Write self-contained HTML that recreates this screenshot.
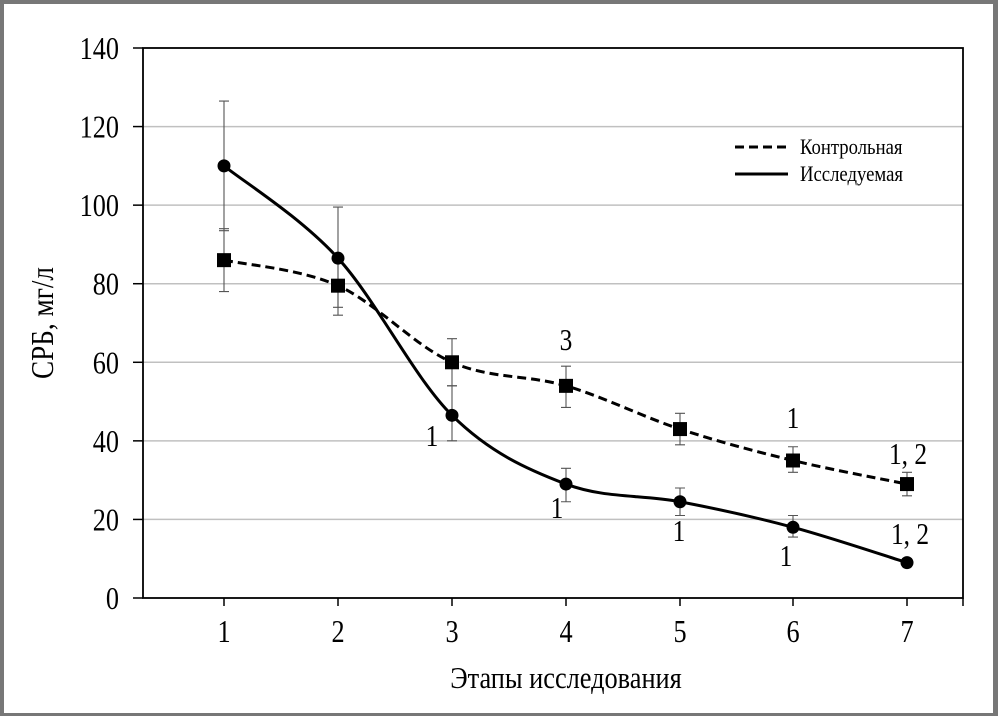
<!DOCTYPE html>
<html><head><meta charset="utf-8"><style>
body{margin:0;background:#fff}
#w{position:relative;width:998px;height:716px;box-sizing:border-box;border:4px solid #777;border-bottom-width:3px;border-right-width:5px;background:#fff}
svg{position:absolute;left:-4px;top:-4px}
text{font-family:"Liberation Serif",serif;fill:#000}
</style></head><body><div id="w">
<svg id="s" width="998" height="716" xmlns="http://www.w3.org/2000/svg"></svg>
</div>
<script>
const s=document.getElementById('s');
const X=[224,338,452,566,680,793,907];
const Y=v=>598-v*550/140;
const T=(x,y,fs,a,str,sx)=>`<g transform="translate(${x} ${y}) scale(${sx||0.82} 1)"><text x="0" y="0" font-size="${fs}" text-anchor="${a}">${str}</text></g>`;
let h='';
for(let v=20;v<=120;v+=20)h+=`<line x1="143" x2="963" y1="${Y(v)}" y2="${Y(v)}" stroke="#c0c0c0" stroke-width="1.5"/>`;
for(let v=0;v<=140;v+=20){h+=`<line x1="133" x2="143" y1="${Y(v)}" y2="${Y(v)}" stroke="#000" stroke-width="1.5"/>`+T(119,Y(v)+11,32,'end',v);}
h+=`<rect x="143" y="48" width="820" height="550" fill="none" stroke="#000" stroke-width="1.8"/>`;
X.forEach((x,i)=>{h+=`<line x1="${x}" x2="${x}" y1="598" y2="606" stroke="#000" stroke-width="1.5"/>`+T(x,642,32,'middle',i+1)});
h+=`<line x1="963" x2="963" y1="598" y2="606" stroke="#000" stroke-width="1.5"/>`;
h+=T(566,688,31,'middle','Этапы исследования',0.85);
h+=`<g transform="translate(53 323) rotate(-90) scale(0.85 1)"><text x="0" y="0" font-size="32" text-anchor="middle">СРБ, мг/л</text></g>`;
const A=[86,79.5,60,54,43,35,29],Ae=[[78,94],[72,87],[54,66],[48.5,59],[39,47],[32,38.5],[26,32]];
const B=[110,86.5,46.5,29,24.5,18,9],Be=[[93.5,126.5],[74,99.5],[40,54],[24.5,33],[21,28],[15.5,21],[8,10]];
function path(d){const p=d.map((v,i)=>[X[i],Y(v)]);let str=`M${p[0]}`;for(let i=0;i<p.length-1;i++){const p0=p[i-1]||p[i],p1=p[i],p2=p[i+1],p3=p[i+2]||p2;const t=0.5/3;str+=` C${p1[0]+(p2[0]-p0[0])*t},${p1[1]+(p2[1]-p0[1])*t} ${p2[0]-(p3[0]-p1[0])*t},${p2[1]-(p3[1]-p1[1])*t} ${p2[0]},${p2[1]}`;}return str;}
function eb(e){return e.map((r,i)=>{const x=X[i];return `<path d="M${x},${Y(r[0])}V${Y(r[1])}M${x-5},${Y(r[0])}h10M${x-5},${Y(r[1])}h10" stroke="#555" stroke-width="1.1" fill="none"/>`}).join('')}
h+=eb(Ae)+eb(Be);
h+=`<path d="${path(A)}" fill="none" stroke="#000" stroke-width="3" stroke-dasharray="9,5"/>`;
h+=`<path d="${path(B)}" fill="none" stroke="#000" stroke-width="3"/>`;
A.forEach((v,i)=>h+=`<rect x="${X[i]-7}" y="${Y(v)-7}" width="14" height="14" fill="#000"/>`);
B.forEach((v,i)=>h+=`<circle cx="${X[i]}" cy="${Y(v)}" r="6.5" fill="#000"/>`);
[[566,350,'3'],[793,428,'1'],[908,464,'1, 2'],[432,446,'1'],[557,518,'1'],[679,541,'1'],[786,566,'1'],[910,544,'1, 2']].forEach(a=>h+=T(a[0],a[1],31,'middle',a[2]));
h+=`<line x1="735" x2="788" y1="147" y2="147" stroke="#000" stroke-width="3" stroke-dasharray="9,5"/>`+T(800,154,22,'start','Контрольная',0.85);
h+=`<line x1="735" x2="788" y1="174" y2="174" stroke="#000" stroke-width="3"/>`+T(800,181,22,'start','Исследуемая',0.85);
s.innerHTML=h;
</script></body></html>
